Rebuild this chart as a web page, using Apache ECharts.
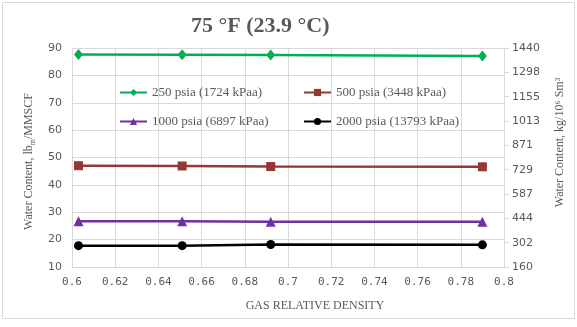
<!DOCTYPE html>
<html><head><meta charset="utf-8">
<script src="https://cdn.jsdelivr.net/npm/echarts@6/dist/echarts.min.js"></script>
<style>html,body{margin:0;padding:0;background:#fff}#c{width:577px;height:327px}</style>
</head><body><div id="c"></div>
<script>
const titleText = '75 °F (23.9 °C)';
const xValues = [0.603, 0.651, 0.692, 0.790];
const seriesNames = ['250 psia (1724 kPaa)', '500 psia (3448 kPaa)', '1000 psia (6897 kPaa)', '2000 psia (13793 kPaa)'];
const s250 = [87.6, 87.5, 87.4, 87.1];
const s500 = [47.0, 46.9, 46.7, 46.6];
const s1000 = [26.7, 26.7, 26.5, 26.5];
const s2000 = [17.8, 17.8, 18.2, 18.1];
const rightTicks = ['160', '302', '444', '587', '729', '871', '1013', '1155', '1298', '1440'];

const grey = '#595959', gridC = '#d9d9d9';
const colors = ['#00b050', '#953735', '#7030a0', '#000000'];
const symbols = ['diamond', 'rect', 'triangle', 'circle'];
const sizes = [[9, 11], 9, 10, 9];
const vals = [s250, s500, s1000, s2000];

const legendText = {fontFamily: 'Liberation Serif', fontSize: 13, color: grey};
const chart = echarts.init(document.getElementById('c'));
chart.setOption({
  backgroundColor: '#fff',
  animation: false,
  title: {
    text: titleText, left: 186, top: 10,
    textStyle: {fontFamily: 'Liberation Serif', fontWeight: 'bold', fontSize: 22, color: grey}
  },
  graphic: [{type: 'rect', shape: {x: 2.5, y: 2.5, width: 572, height: 316}, style: {fill: null, stroke: gridC, lineWidth: 1}, silent: true}],
  legend: [
    {data: [seriesNames[0], seriesNames[2]], orient: 'vertical', left: 119, top: 86, padding: 0, itemGap: 16, itemWidth: 27, itemHeight: 9,
     textStyle: legendText},
    {data: [seriesNames[1], seriesNames[3]], orient: 'vertical', left: 303, top: 86, padding: 0, itemGap: 16, itemWidth: 27, itemHeight: 9,
     textStyle: legendText}
  ],
  grid: {left: 72, right: 73, top: 48, bottom: 60, containLabel: false},
  xAxis: {
    type: 'value', min: 0.6, max: 0.8, interval: 0.02,
    name: 'GAS RELATIVE DENSITY', nameLocation: 'middle', nameGap: 33,
    nameTextStyle: {fontFamily: 'Liberation Serif', fontSize: 12, color: grey, padding: [0, 0, 0, 54]},
    axisLine: {show: true, lineStyle: {color: gridC}},
    axisTick: {show: false},
    axisLabel: {margin: 10, fontFamily: 'DejaVu Sans Mono', fontSize: 11, color: grey,
      formatter: v => String(Math.round(v * 100) / 100)},
    splitLine: {show: true, lineStyle: {color: gridC}}
  },
  yAxis: [
    {type: 'value', min: 10, max: 90, interval: 10,
     name: '{a|Water Content, lb}{s|m}{a|/MMSCF}', nameLocation: 'middle', nameGap: 35,
     nameTextStyle: {color: grey, padding: [0, 8, 0, 0], rich: {
       a: {fontFamily: 'Liberation Serif', fontSize: 12, color: grey, lineHeight: 16},
       s: {fontFamily: 'Liberation Serif', fontSize: 8, color: grey, lineHeight: 16, verticalAlign: 'bottom'}}},
     axisLine: {show: true, lineStyle: {color: gridC}},
     axisTick: {show: false},
     axisLabel: {margin: 10, fontFamily: 'DejaVu Sans', fontSize: 11, color: grey},
     splitLine: {show: true, lineStyle: {color: gridC}}},
    {type: 'value', min: 0, max: 9, interval: 1, position: 'right',
     name: 'Water Content, kg/10⁶ Sm³', nameLocation: 'middle', nameGap: 50,
     nameTextStyle: {fontFamily: 'Liberation Serif', fontSize: 12, color: grey, padding: [0, 0, 0, 30]},
     axisLine: {show: true, lineStyle: {color: gridC}},
     axisTick: {show: true, length: 5, lineStyle: {color: gridC}},
     axisLabel: {margin: 8, fontFamily: 'DejaVu Sans', fontSize: 11, color: grey,
       formatter: v => rightTicks[Math.round(v)]},
     splitLine: {show: false}}
  ],
  series: vals.map((d, i) => ({
    name: seriesNames[i], type: 'line', yAxisIndex: 0,
    data: d.map((y, j) => [xValues[j], y]),
    symbol: symbols[i], symbolSize: sizes[i], showSymbol: true,
    itemStyle: {color: colors[i]},
    lineStyle: {color: colors[i], width: 2.5}
  }))
});
</script></body></html>
